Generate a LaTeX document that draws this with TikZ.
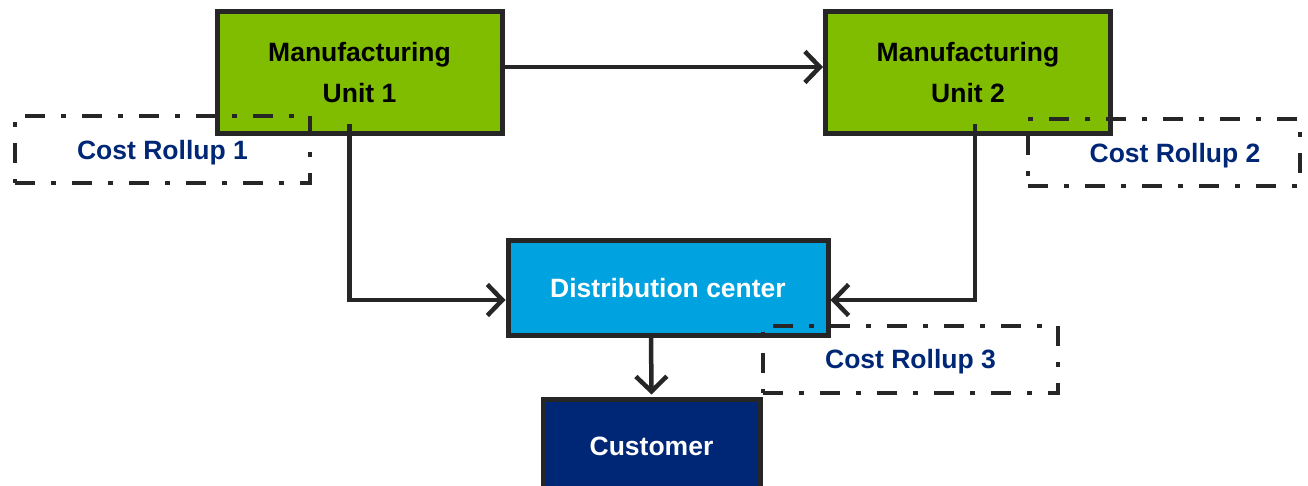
\documentclass[tikz,border=0pt]{standalone}
\usepackage{fontspec}
\setmainfont{Liberation Sans}
\usetikzlibrary{arrows.meta}

\definecolor{unitgreen}{HTML}{80BC00}
\definecolor{dcblue}{HTML}{00A2DF}
\definecolor{custnavy}{HTML}{002776}
\definecolor{linegray}{HTML}{262626}

\begin{document}
\begin{tikzpicture}[x=1pt,y=-1pt,
	font=\bfseries\fontsize{26.5}{41}\selectfont,
	box/.style={draw=linegray,line width=5pt,align=center,inner sep=0pt},
	unit/.style={box,fill=unitgreen,minimum width=285pt,minimum height=122pt},
	rollup/.style={draw=linegray,line width=4pt,text=custnavy,inner sep=0pt,text depth=0pt,
		minimum height=67pt,dash pattern=on 20pt off 16pt on 5pt off 16pt},
	flow/.style={draw=linegray,line width=4.5pt,-{Straight Barb[length=15pt,width=31pt]}}]
	\useasboundingbox (0,0) rectangle (1308,486);

	% plants, hub and customer
	\node[unit] (mu1) at (359.5,73) {Manufacturing\\Unit 1};
	\node[unit] (mu2) at (968,73) {Manufacturing\\Unit 2};
	\node[box,fill=dcblue,text=white,minimum width=320pt,minimum height=94pt] (dc) at (668,288) {Distribution center};
	\node[box,fill=custnavy,text=white,minimum width=217pt,minimum height=94pt] (cust) at (651.5,446) {Customer};

	% cost rollups on top
	\node[rollup,minimum width=295pt] (cr1) at (162.5,150) {Cost Rollup 1};
	\node[rollup,minimum width=272pt] (cr2) at (1164,153) {\hspace{22pt}Cost Rollup 2};
	\node[rollup,minimum width=295pt] (cr3) at (910.5,359) {Cost Rollup 3};

	\draw[flow] ([xshift=-5pt,yshift=6pt]mu1.east) -- ([yshift=6pt]mu2.west);
	\draw[flow] ([xshift=-10pt,yshift=12pt]mu1.south) |- ([yshift=-12pt]dc.west);
	\draw[flow] ([xshift=7pt,yshift=12pt]mu2.south) |- ([yshift=-12pt]dc.east);
	\draw[flow] ([xshift=-17pt,yshift=2pt]dc.south) -- ([yshift=2pt]cust.north);
\end{tikzpicture}
\end{document}
